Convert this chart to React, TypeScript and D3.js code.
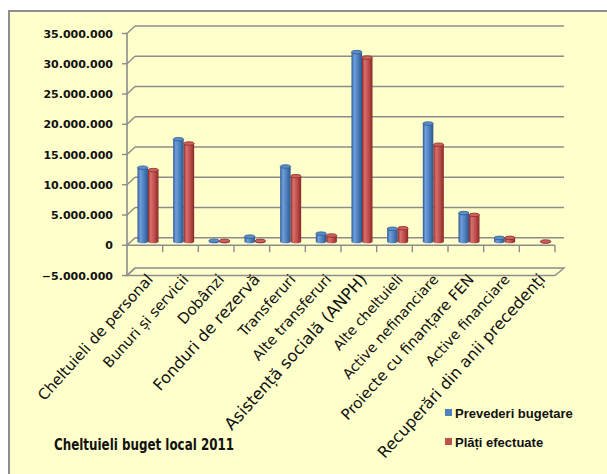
import * as d3 from 'd3';

const categories = [
  'Cheltuieli de personal',
  'Bunuri și servicii',
  'Dobânzi',
  'Fonduri de rezervă',
  'Transferuri',
  'Alte transferuri',
  'Asistență socială (ANPH)',
  'Alte cheltuieli',
  'Active nefinanciare',
  'Proiecte cu finanțare FEN',
  'Active financiare',
  'Recuperări din anii precedenți',
];

const prevederi: (number | null)[] = [
  12200000, 16900000, 120000, 800000, 12400000, 1300000, 31300000, 2100000, 19500000, 4700000, 600000, null,
];
const plati: (number | null)[] = [
  11800000, 16200000, 100000, 100000, 10800000, 1000000, 30400000, 2200000, 16000000, 4400000, 600000, -50000,
];

const seriesNames = ['Prevederi bugetare', 'Plăți efectuate'];
const yTicks = [-5000000, 0, 5000000, 10000000, 15000000, 20000000, 25000000, 30000000, 35000000];
const title = 'Cheltuieli buget local 2011';

// label font sizes, tuned by eye
const labelSize = [15, 14.5, 15, 16, 14.5, 14.5, 16.5, 14, 14, 15, 14, 16];

const W = 607;
const H = 474;
const left = 127;
const right = 555;
// depth offset from the front plane to the back wall
const dx = 8;
const dy = -7.5;

const fmt = d3.formatLocale({ decimal: ',', thousands: '.', grouping: [3], currency: ['', ''] }).format(',d');

const colors = [
  { dark: '#2c5690', mid: '#4f81bd', light: '#6f9fdc', top: '#5d8ecb', edge: '#2f5a8f' },
  { dark: '#892a27', mid: '#c0504d', light: '#d8706c', top: '#cc605c', edge: '#8a2d2a' },
];

const App = () => {
  const x = d3.scaleBand().domain(categories).range([left, right]);
  const y = d3.scaleLinear().domain([-5000000, 35000000]).range([275.5, 33.5]);
  const inner = d3.scaleBand().domain(['0', '1']).range([0, 21]);
  const barW = inner.bandwidth();

  const data = [prevederi, plati];
  const grid = '#8c8c8c';

  return (
    <svg width={W} height={H} style={{ position: 'absolute', left: 0, top: 0 }}>
      <defs>
        {colors.map((c, i) => (
          <linearGradient key={i} id={'g' + i} x1="0" x2="1" y1="0" y2="0">
            <stop offset="0%" stopColor={c.dark} />
            <stop offset="25%" stopColor={c.light} />
            <stop offset="60%" stopColor={c.mid} />
            <stop offset="100%" stopColor={c.dark} />
          </linearGradient>
        ))}
      </defs>
      <rect x={9} y={11} width={W} height={H} fill="#ffffcc" stroke="#8e8e8e" strokeWidth={2} />

      {/* back wall gridlines */}
      {yTicks
        .filter((t) => t >= 0)
        .map((t) => (
          <line key={t} x1={left + dx} x2={right + dx + 1} y1={y(t) + dy} y2={y(t) + dy} stroke={grid} strokeWidth={1.6} />
        ))}
      {/* floor at the minimum */}
      <polygon
        points={[
          [left, y(-5000000)],
          [right, y(-5000000)],
          [right + dx + 1, y(-5000000) + dy],
          [left + dx, y(-5000000) + dy],
        ]
          .map((p) => p.join(','))
          .join(' ')}
        fill="none"
        stroke={grid}
        strokeWidth={1.4}
      />
      {/* diagonals from the axis to the wall */}
      {yTicks.map((t) => (
        <line key={t} x1={left} x2={left + dx} y1={y(t)} y2={y(t) + dy} stroke={grid} strokeWidth={1.4} />
      ))}

      {/* bars */}
      {categories.map((cat, ci) =>
        data.map((s, si) => {
          const v = s[ci];
          if (v === null) return null;
          const bx = (x(cat) ?? 0) + 11 + (inner(String(si)) ?? 0) - 0.5;
          const y0 = y(0) + dy / 2;
          const y1 = y(v) + dy / 2;
          const top = Math.min(y0, y1);
          const h = Math.abs(y0 - y1);
          const c = colors[si];
          const ry = 1.8;
          return (
            <g key={cat + si}>
              <rect x={bx} y={top} width={barW} height={h} fill={`url(#g${si})`} />
              <ellipse cx={bx + barW / 2} cy={Math.max(y0, y1)} rx={barW / 2} ry={ry} fill={`url(#g${si})`} />
              <ellipse
                cx={bx + barW / 2}
                cy={top}
                rx={barW / 2}
                ry={ry}
                fill={c.top}
                stroke={c.edge}
                strokeWidth={0.8}
              />
            </g>
          );
        }),
      )}

      {/* value axis */}
      <line x1={left} x2={left} y1={y(35000000)} y2={y(-5000000)} stroke={grid} strokeWidth={1.6} />
      {yTicks.map((t) => (
        <g key={t}>
          <line x1={left - 5} x2={left} y1={y(t)} y2={y(t)} stroke={grid} strokeWidth={1.4} />
          <text
            x={113}
            y={y(t) + 4}
            textAnchor="end"
            fontFamily="DejaVu Sans"
            fontWeight="bold"
            fontSize={11}
            fill="#111"
          >
            {fmt(t)}
          </text>
        </g>
      ))}

      {/* category axis at zero */}
      <line x1={left} x2={right} y1={y(0)} y2={y(0)} stroke={grid} strokeWidth={1.6} />
      {categories.map((cat) => (
        <line key={cat} x1={(x(cat) ?? 0) + x.bandwidth()} x2={(x(cat) ?? 0) + x.bandwidth()} y1={y(0)} y2={y(0) + 7} stroke={grid} strokeWidth={1.4} />
      ))}

      {/* category labels */}
      {categories.map((cat, i) => {
        const ax = (x(cat) ?? 0) + x.bandwidth() / 2 + 9;
        const ay = 280;
        return (
          <text
            key={cat}
            x={ax}
            y={ay}
            transform={`rotate(-48 ${ax} ${ay})`}
            textAnchor="end"
            fontFamily="DejaVu Sans"
            fontSize={labelSize[i]}
            fill="#111"
          >
            {cat}
          </text>
        );
      })}

      {/* legend */}
      {seriesNames.map((n, i) => (
        <g key={n} transform={`translate(445, ${409 + i * 29})`}>
          <rect x={0} y={0} width={7} height={7} fill={colors[i].mid} />
          <text x={10} y={8.5} fontFamily="Liberation Sans" fontWeight="bold" fontSize={13} fill="#111">
            {n}
          </text>
        </g>
      ))}

      <text
        x={54}
        y={450}
        fontFamily="DejaVu Sans Condensed, DejaVu Sans"
        fontWeight="bold"
        fontSize={16}
        fill="#111"
        textLength={180}
        lengthAdjust="spacingAndGlyphs"
      >
        {title}
      </text>
    </svg>
  );
};

export default App;
